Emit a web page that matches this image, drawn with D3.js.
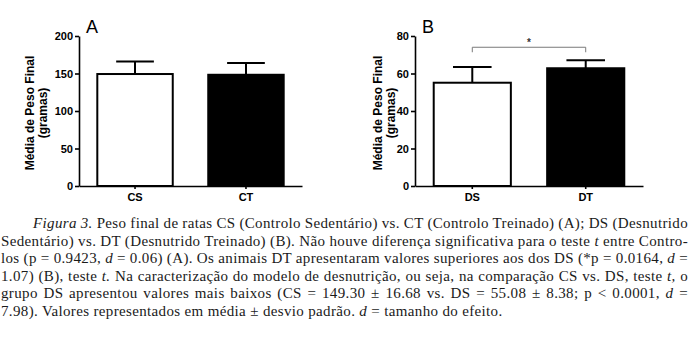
<!DOCTYPE html>
<html>
<head>
<meta charset="utf-8">
<script src="https://cdn.jsdelivr.net/npm/d3@7"></script>
<style>
  body { margin: 0; background: #fff; }
  svg { display: block; }
</style>
</head>
<body>
<div id="fig"></div>
<script>
const width = 692
const height = 341

// panel A
const groupsA = ['CS', 'CT']
const meansA = [149.3, 148.3]
const sdsA = [16.68, 15.6]
const ticksA = [0, 50, 100, 150, 200]

// panel B
const groupsB = ['DS', 'DT']
const meansB = [55.08, 62.8]
const sdsB = [8.38, 4.3]
const ticksB = [0, 20, 40, 60, 80]
const bracketB = { from: 'DS', to: 'DT', value: 74, label: '*' }

const barFills = ['#fff', '#000']

// legenda: [texto, itálico]
const captionLines = [
    [['Figura 3.', true], [' Peso final de ratas CS (Controlo Sedentário) vs. CT (Controlo Treinado) (A); DS (Desnutrido', false]],
    [['Sedentário) vs. DT (Desnutrido Treinado) (B). Não houve diferença significativa para o teste ', false], ['t', true], [' entre Contro-', false]],
    [['los (p = 0.9423, ', false], ['d', true], [' = 0.06) (A). Os animais DT apresentaram valores superiores aos dos DS (*p = 0.0164, ', false], ['d', true], [' =', false]],
    [['1.07) (B), teste ', false], ['t.', true], [' Na caracterização do modelo de desnutrição, ou seja, na comparação CS vs. DS, teste ', false], ['t,', true], [' o', false]],
    [['grupo DS apresentou valores mais baixos (CS = 149.30 ± 16.68 vs. DS = 55.08 ± 8.38; p < 0.0001, ', false], ['d', true], [' =', false]],
    [['7.98). Valores representados em média ± desvio padrão. ', false], ['d', true], [' = tamanho do efeito.', false]]
]

const sans = "'Liberation Sans', Arial, sans-serif"
const serif = "'Liberation Serif', 'Times New Roman', serif"

const svg = d3.select('#fig')
    .append('svg')
    .attr('width', width)
    .attr('height', height)

function drawPanel(opts) {
    const g = svg.append('g')
    const y = d3.scaleLinear().domain([0, opts.ticks[opts.ticks.length - 1]]).range([186, 36])
    const x = d3.scaleBand()
        .domain(opts.groups)
        .range([opts.left, opts.right])
        .paddingInner(0.32)
        .paddingOuter(0.165)
    const bw = x.bandwidth()

    // barras
    g.selectAll('rect.bar')
        .data(opts.groups)
        .enter()
        .append('rect')
        .attr('class', 'bar')
        .attr('x', d => x(d))
        .attr('y', (d, i) => y(opts.means[i]))
        .attr('width', bw)
        .attr('height', (d, i) => y(0) - y(opts.means[i]))
        .attr('fill', (d, i) => barFills[i])
        .attr('stroke', '#000')
        .attr('stroke-width', 2)

    // barras de erro (só para cima)
    const err = g.selectAll('g.err')
        .data(opts.groups)
        .enter()
        .append('g')
        .attr('class', 'err')
        .attr('stroke', '#000')
        .attr('stroke-width', 2)
    err.append('line')
        .attr('x1', d => x(d) + bw / 2)
        .attr('x2', d => x(d) + bw / 2)
        .attr('y1', (d, i) => y(opts.means[i]))
        .attr('y2', (d, i) => y(opts.means[i] + opts.sds[i]))
    err.append('line')
        .attr('x1', d => x(d) + bw / 4)
        .attr('x2', d => x(d) + bw * 3 / 4)
        .attr('y1', (d, i) => y(opts.means[i] + opts.sds[i]))
        .attr('y2', (d, i) => y(opts.means[i] + opts.sds[i]))

    const yAxis = d3.axisLeft(y).tickValues(opts.ticks).tickSize(4).tickSizeOuter(0).tickPadding(2)
    g.append('g')
        .attr('transform', `translate(${opts.left}, 0)`)
        .call(yAxis)
        .call(a => a.selectAll('.domain, .tick line').attr('stroke-width', 1.6))
        .call(a => a.selectAll('text').style('font', `bold 11px ${sans}`).attr('fill', '#000'))

    const xAxis = d3.axisBottom(x).tickSize(3).tickSizeOuter(0).tickPadding(4)
    g.append('g')
        .attr('transform', `translate(0, ${y(0)})`)
        .call(xAxis)
        .call(a => a.selectAll('.domain, .tick line').attr('stroke-width', 1.6))
        .call(a => a.selectAll('text').style('font', `bold 11px ${sans}`).attr('fill', '#000'))

    // título do eixo y
    const yl = g.append('text')
        .attr('transform', `translate(${opts.labelX}, 113) rotate(-90)`)
        .attr('text-anchor', 'middle')
        .style('font', `bold 12px ${sans}`)
    yl.append('tspan').attr('x', 0).attr('y', 0).text('Média de Peso Final')
    yl.append('tspan').attr('x', 0).attr('y', 13).text('(gramas)')

    // letra do painel
    g.append('text')
        .attr('x', opts.left + 7)
        .attr('y', 33)
        .style('font', `18px ${sans}`)
        .text(opts.letter)

    if (opts.bracket) {
        const b = opts.bracket
        const x1 = x(b.from) + bw / 2
        const x2 = x(b.to) + bw / 2
        const yb = y(b.value)
        g.append('path')
            .attr('d', `M${x1},${yb + 5}V${yb}H${x2}V${yb + 5}`)
            .attr('fill', 'none')
            .attr('stroke', '#7a7a7a')
            .attr('stroke-width', 1)
        g.append('text')
            .attr('x', (x1 + x2) / 2)
            .attr('y', yb - 1)
            .attr('text-anchor', 'middle')
            .style('font', `bold 10px ${sans}`)
            .attr('fill', '#333')
            .text(b.label)
    }
}

drawPanel({ groups: groupsA, means: meansA, sds: sdsA, ticks: ticksA, left: 79, right: 302, labelX: 34, letter: 'A' })
drawPanel({ groups: groupsB, means: meansB, sds: sdsB, ticks: ticksB, left: 415, right: 643, labelX: 382, letter: 'B', bracket: bracketB })

// legenda justificada
const capLeft = 1
const capRight = 688
captionLines.forEach((line, i) => {
    const startX = i === 0 ? 33 : capLeft
    const t = svg.append('text')
        .attr('x', startX)
        .attr('y', 228 + i * 17.6)
        .style('font', `15px ${serif}`)
        .style('letter-spacing', '0.35px')
        .style('white-space', 'pre')
        .attr('fill', '#1a1a1a')
    line.forEach(([txt, it]) => {
        t.append('tspan')
            .style('font-style', it ? 'italic' : 'normal')
            .text(txt)
    })
    if (i < captionLines.length - 1) {
        const full = line.map(s => s[0]).join('')
        const spaces = (full.match(/ /g) || []).length
        const len = t.node().getComputedTextLength()
        const ws = (capRight - startX - len) / spaces
        t.style('word-spacing', ws + 'px')
    }
})
</script>
</body>
</html>
